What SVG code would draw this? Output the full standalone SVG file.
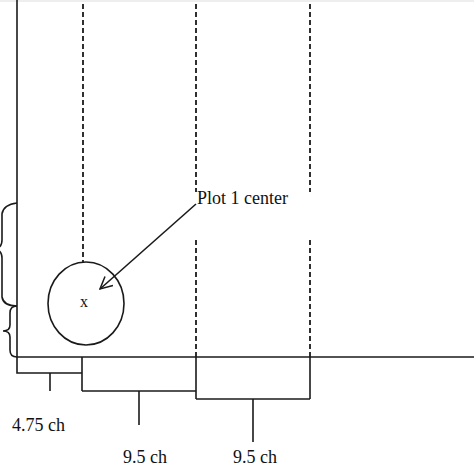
<svg xmlns="http://www.w3.org/2000/svg" width="474" height="474" viewBox="0 0 474 474">
<style>
.ln{stroke:#1a1a1a;stroke-width:1.6;fill:none}
.ds{stroke:#1a1a1a;stroke-width:1.8;fill:none;stroke-dasharray:5 3}
.br{stroke:#1a1a1a;stroke-width:1.6;fill:none}
text{font-family:"Liberation Serif","Times New Roman",serif;fill:#111}
</style>
<defs>
<marker id="ah" markerWidth="14" markerHeight="14" refX="13" refY="7" orient="auto" markerUnits="userSpaceOnUse">
<path d="M1,1 L13,7 L1,13" fill="none" stroke="#1a1a1a" stroke-width="1.5"/>
</marker>
</defs>
<rect x="0" y="0" width="474" height="2" fill="#eeeeee"/>
<g id="frame">
<line class="ln" x1="17" y1="0" x2="17" y2="357"/>
<line class="ln" x1="17" y1="357" x2="474" y2="357"/>
</g>
<g id="plot-lines">
<line class="ds" x1="83" y1="4" x2="83" y2="262"/>
<line class="ds" x1="196" y1="4" x2="196" y2="192"/>
<line class="ds" x1="196" y1="240" x2="196" y2="357"/>
<line class="ds" x1="310" y1="4" x2="310" y2="192"/>
<line class="ds" x1="310" y1="240" x2="310" y2="357"/>
</g>
<g id="plot1">
<ellipse class="ln" cx="86" cy="303.5" rx="38" ry="41.5"/>
<text x="84" y="307" font-size="16" text-anchor="middle">x</text>
</g>
<g id="label-plot1">
<text x="197" y="204" font-size="18">Plot 1 center</text>
</g>
<g id="connectors">
<line class="ln" x1="196" y1="204" x2="100" y2="289" marker-end="url(#ah)"/>
</g>
<g id="braces">
<path class="br" d="M17,203 C8,204 3,207 2,214 L2,240 C2,246 -1,248 -4,249 C-1,250 2,252 2,258 L2,297 C3,303 8,306 17,306"/>
<path class="br" d="M17,306 C12,306 10,309 10,313 L10,325 C10,329 7,331 3,331 C7,331 10,333 10,337 L10,350 C10,354 12,357 17,357"/>
</g>
<g id="dimensions">
<polyline class="ln" points="17,357 17,373 82,373"/>
<line class="ln" x1="50" y1="373" x2="50" y2="391"/>
<line class="ln" x1="82" y1="357" x2="82" y2="391"/>
<line class="ln" x1="82" y1="391" x2="196" y2="391"/>
<line class="ln" x1="139" y1="391" x2="139" y2="425"/>
<line class="ln" x1="196" y1="357" x2="196" y2="399"/>
<line class="ln" x1="196" y1="399" x2="310" y2="399"/>
<line class="ln" x1="310" y1="357" x2="310" y2="399"/>
<line class="ln" x1="253" y1="399" x2="253" y2="442"/>
<text x="12" y="431" font-size="18">4.75 ch</text>
<text x="123" y="463" font-size="18">9.5 ch</text>
<text x="233" y="463" font-size="18">9.5 ch</text>
</g>
</svg>
